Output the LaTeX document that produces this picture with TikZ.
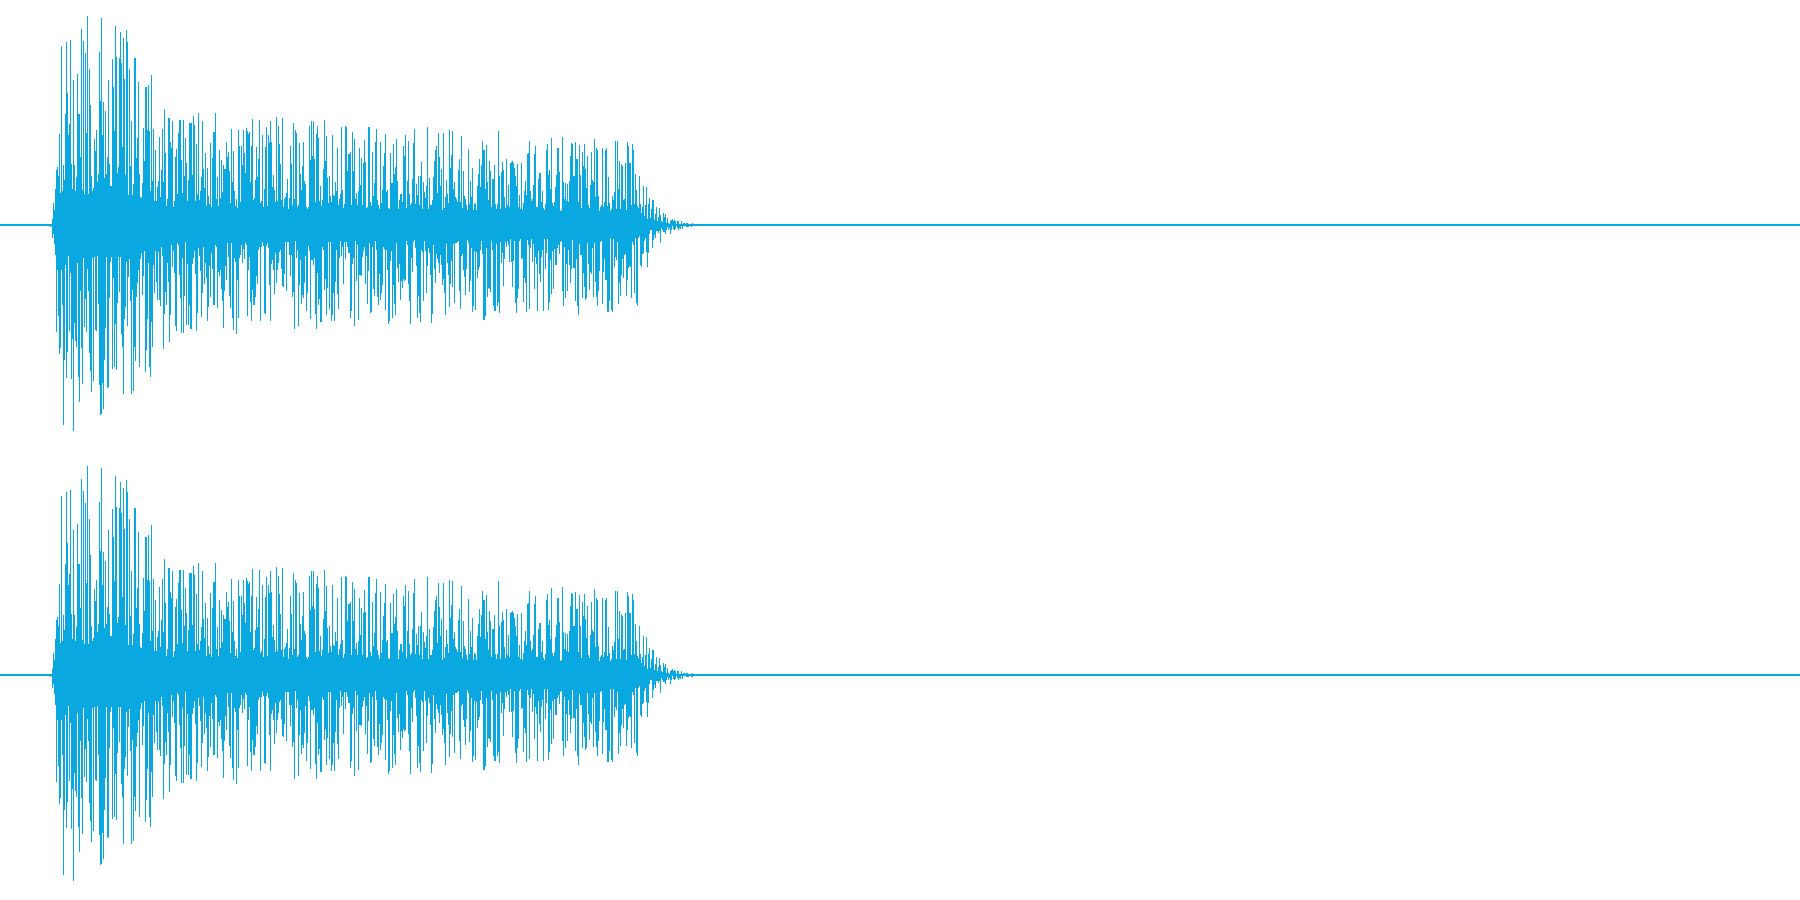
\documentclass[tikz,border=0pt]{standalone}
\definecolor{wave}{RGB}{10,168,225}
\begin{document}
\begin{tikzpicture}[x=0.011480cm,y=-0.011480cm,wv/.style={draw=wave,line width=0.3pt}]
\useasboundingbox (0,0) rectangle (1568,784);
\foreach \cy in {196,588}{
  \pgfmathsetseed{4242}
  \draw[wv] (0,\cy) -- (1568,\cy);
  \foreach \x in {44,44.8,...,630}{
    \pgfmathsetmacro\e{\x<45?4:(\x<52?(\x-45)*25:(\x<106?182:(\x<150?182-(\x-106)*1.9:(\x<555?100-(\x-150)*0.06:(\x<625?75*exp(-max(\x-555,0)/13):1)))))}
    \pgfmathsetmacro\u{\e*(0.15+0.85*rnd^1.5)}
    \pgfmathsetmacro\d{\e*(0.15+0.85*rnd^1.5)}
    \draw[wv] (\x,\cy-\u) -- (\x,\cy+\d);
  }
}
\end{tikzpicture}
\end{document}
